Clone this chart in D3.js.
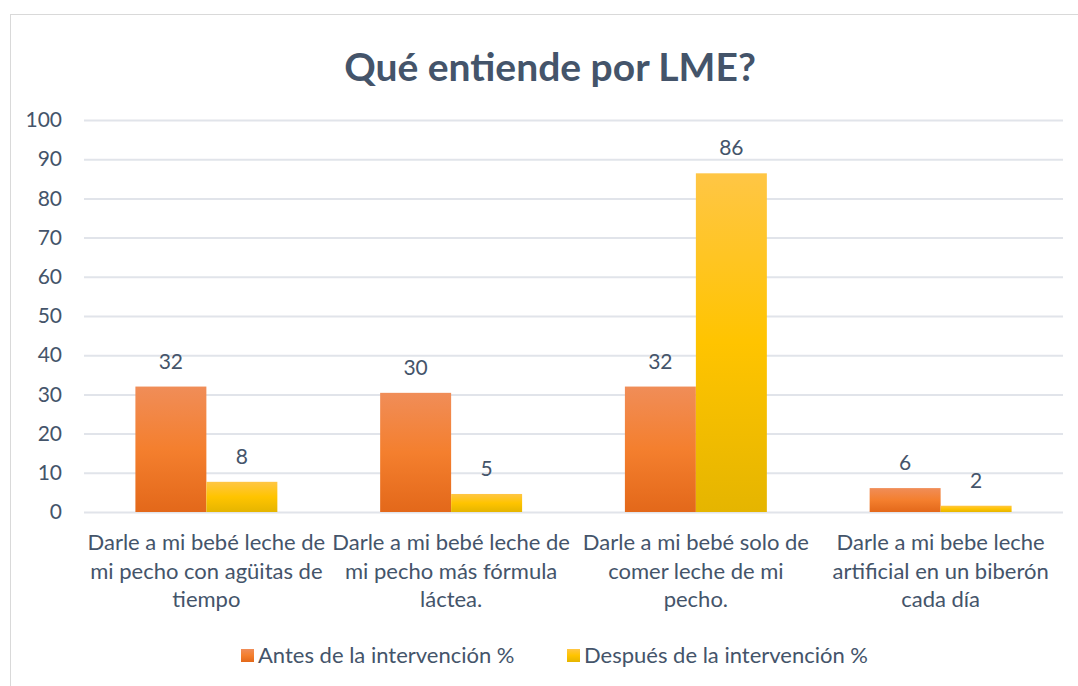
<!DOCTYPE html>
<html>
<head>
<meta charset="utf-8">
<script src="https://cdn.jsdelivr.net/npm/d3@7"></script>
<style>
  body { margin: 0; background: #fff; }
  svg { font-family: Lato, "Open Sans", sans-serif; }
</style>
</head>
<body>
<script>
// data
var categories = [
  ["Darle a mi bebé leche de", "mi pecho con agüitas de", "tiempo"],
  ["Darle a mi bebé leche de", "mi pecho más fórmula", "láctea."],
  ["Darle a mi bebé solo de", "comer leche de mi", "pecho."],
  ["Darle a mi bebe leche", "artificial en un biberón", "cada día"]
];
var seriesNames = ["Antes de la intervención %", "Después de la intervención %"];
var antes = [32, 30.4, 32, 6.1];
var despues = [7.7, 4.6, 86.4, 1.6];
var yTicks = [0, 10, 20, 30, 40, 50, 60, 70, 80, 90, 100];

var W = 1078, H = 686;
var textColor = "#44546A";

var svg = d3.select("body").append("svg")
    .attr("width", W)
    .attr("height", H);

// gradients
var defs = svg.append("defs");
var grads = [
  ["gAntes", ["#F08D58", "#F47F2E", "#E3681A"]],
  ["gDespues", ["#FFC645", "#FFC400", "#E5B500"]]
];
grads.forEach(function (g) {
  var lg = defs.append("linearGradient")
      .attr("id", g[0])
      .attr("x1", 0).attr("y1", 0).attr("x2", 0).attr("y2", 1);
  lg.append("stop").attr("offset", "0%").attr("stop-color", g[1][0]);
  lg.append("stop").attr("offset", "50%").attr("stop-color", g[1][1]);
  lg.append("stop").attr("offset", "100%").attr("stop-color", g[1][2]);
});

// chart frame
svg.append("rect")
    .attr("x", 10.5).attr("y", 14.5)
    .attr("width", W).attr("height", H)
    .attr("fill", "#fff")
    .attr("stroke", "#D9D9D9");

svg.append("text")
    .attr("x", 550).attr("y", 81)
    .attr("text-anchor", "middle")
    .attr("fill", textColor)
    .style("font-size", "39px")
    .style("font-weight", "bold")
    .text("Qué entiende por LME?");

var x0 = d3.scaleBand()
    .domain(d3.range(categories.length))
    .range([84, 1063])
    .paddingInner(0.42)
    .paddingOuter(0.21);
var x1 = d3.scaleBand()
    .domain([0, 1])
    .range([0, x0.bandwidth()]);
var y = d3.scaleLinear().domain([0, 100]).range([512, 120]);

// grid
svg.append("g").selectAll("line")
    .data(yTicks)
    .join("line")
    .attr("x1", 84).attr("x2", 1063)
    .attr("y1", function (d) { return y(d) + 0.5; })
    .attr("y2", function (d) { return y(d) + 0.5; })
    .attr("stroke", "#E1E4EA")
    .attr("stroke-width", 2);

// y axis labels
var yAxis = svg.append("g")
    .attr("transform", "translate(62,0)")
    .call(d3.axisLeft(y).tickValues(yTicks).tickSize(0).tickPadding(0));
yAxis.select(".domain").remove();
yAxis.selectAll("text")
    .attr("fill", textColor)
    .style("font-size", "21px")
    .style("font-family", "Lato, 'Open Sans', sans-serif");

var series = [antes, despues];
var fills = ["url(#gAntes)", "url(#gDespues)"];

series.forEach(function (vals, s) {
  var g = svg.append("g");
  g.selectAll("rect")
      .data(vals)
      .join("rect")
      .attr("x", function (d, i) { return x0(i) + x1(s); })
      .attr("y", function (d) { return y(d); })
      .attr("width", x1.bandwidth())
      .attr("height", function (d) { return y(0) - y(d); })
      .attr("fill", fills[s]);
  g.selectAll("text")
      .data(vals)
      .join("text")
      .attr("x", function (d, i) { return x0(i) + x1(s) + x1.bandwidth() / 2; })
      .attr("y", function (d) { return y(d) - 18; })
      .attr("text-anchor", "middle")
      .attr("fill", textColor)
      .style("font-size", "21px")
      .text(function (d) { return Math.round(d); });
});

// category labels
var cat = svg.append("g").selectAll("text")
    .data(categories)
    .join("text")
    .attr("text-anchor", "middle")
    .attr("fill", textColor)
    .style("font-size", "22px")
    .attr("x", function (d, i) { return x0(i) + x0.bandwidth() / 2; })
    .attr("y", 550);
cat.selectAll("tspan")
    .data(function (d) { return d; })
    .join("tspan")
    .attr("x", function () { return d3.select(this.parentNode).attr("x"); })
    .attr("dy", function (d, i) { return i === 0 ? 0 : 28.5; })
    .text(function (d) { return d; });

// legend
var legend = svg.append("g").attr("transform", "translate(0,655)");
var legX = [241, 567];
seriesNames.forEach(function (name, s) {
  legend.append("rect")
      .attr("x", legX[s]).attr("y", -6)
      .attr("width", 13).attr("height", 13)
      .attr("fill", fills[s]);
  legend.append("text")
      .attr("x", legX[s] + 17).attr("y", 8)
      .attr("fill", textColor)
      .style("font-size", "22px")
      .text(name);
});
</script>
</body>
</html>
